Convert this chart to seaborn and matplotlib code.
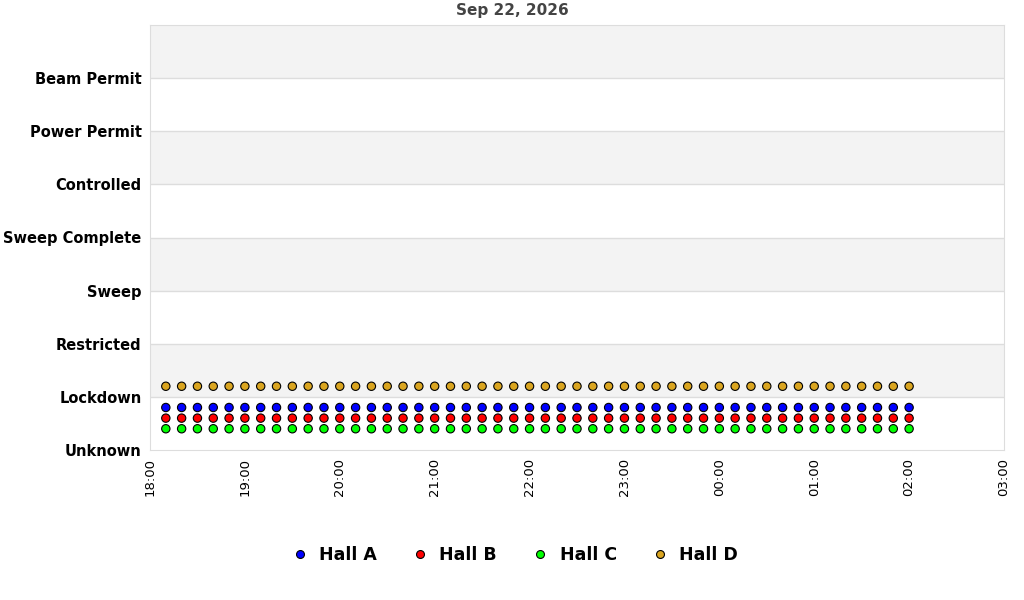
import pandas as pd
import numpy as np
import matplotlib
matplotlib.use("Agg")
import matplotlib.pyplot as plt
import matplotlib.dates as mdates
import seaborn as sns

states = ["Unknown", "Lockdown", "Restricted", "Sweep", "Sweep Complete",
          "Controlled", "Power Permit", "Beam Permit"]

times = ["18:10", "18:20", "18:30", "18:40", "18:50", "19:00",
         "19:10", "19:20", "19:30", "19:40", "19:50", "20:00",
         "20:10", "20:20", "20:30", "20:40", "20:50", "21:00",
         "21:10", "21:20", "21:30", "21:40", "21:50", "22:00",
         "22:10", "22:20", "22:30", "22:40", "22:50", "23:00",
         "23:10", "23:20", "23:30", "23:40", "23:50", "00:00",
         "00:10", "00:20", "00:30", "00:40", "00:50", "01:00",
         "01:10", "01:20", "01:30", "01:40", "01:50", "02:00"]

# state index per sample (1 = Lockdown)
hall_a = [1, 1, 1, 1, 1, 1, 1, 1, 1, 1, 1, 1, 1, 1, 1, 1, 1, 1, 1, 1, 1, 1, 1, 1,
          1, 1, 1, 1, 1, 1, 1, 1, 1, 1, 1, 1, 1, 1, 1, 1, 1, 1, 1, 1, 1, 1, 1, 1]
hall_b = [1, 1, 1, 1, 1, 1, 1, 1, 1, 1, 1, 1, 1, 1, 1, 1, 1, 1, 1, 1, 1, 1, 1, 1,
          1, 1, 1, 1, 1, 1, 1, 1, 1, 1, 1, 1, 1, 1, 1, 1, 1, 1, 1, 1, 1, 1, 1, 1]
hall_c = [1, 1, 1, 1, 1, 1, 1, 1, 1, 1, 1, 1, 1, 1, 1, 1, 1, 1, 1, 1, 1, 1, 1, 1,
          1, 1, 1, 1, 1, 1, 1, 1, 1, 1, 1, 1, 1, 1, 1, 1, 1, 1, 1, 1, 1, 1, 1, 1]
hall_d = [1, 1, 1, 1, 1, 1, 1, 1, 1, 1, 1, 1, 1, 1, 1, 1, 1, 1, 1, 1, 1, 1, 1, 1,
          1, 1, 1, 1, 1, 1, 1, 1, 1, 1, 1, 1, 1, 1, 1, 1, 1, 1, 1, 1, 1, 1, 1, 1]

halls = ["Hall A", "Hall B", "Hall C", "Hall D"]
colors = ["#0000ff", "#ff0000", "#00ff00", "#daa520"]
# vertical offset so the halls don't sit on top of each other
offsets = {"Hall A": -0.2, "Hall B": -0.4, "Hall C": -0.6, "Hall D": 0.2}

# timestamps: evening of Sep 22 rolls into Sep 23 after midnight
stamps = []
for t in times:
    day = "2026-09-22" if t >= "18:00" else "2026-09-23"
    stamps.append(pd.Timestamp(day + " " + t))

frames = []
for name, vals in zip(halls, [hall_a, hall_b, hall_c, hall_d]):
    frames.append(pd.DataFrame({"time": stamps, "state": vals, "hall": name}))
df = pd.concat(frames, ignore_index=True)
df["y"] = df["state"] + df["hall"].map(offsets)

sns.set_style("white")
plt.rcParams["text.color"] = "black"
plt.rcParams["xtick.color"] = "black"
plt.rcParams["ytick.color"] = "black"

fig = plt.figure(figsize=(10.24, 6), dpi=100)
ax = fig.add_axes([150 / 1024, 150 / 600, 854 / 1024, 425 / 600])

for i in range(8):
    if i % 2 == 1:
        ax.axhspan(i, i + 1, color="#f3f3f3", zorder=0, lw=0)
for i in range(1, 8):
    ax.axhline(i, color="#dddddd", lw=1, zorder=1)

sns.scatterplot(data=df, x="time", y="y", hue="hall", hue_order=halls,
                palette=colors, s=36, edgecolor="black", linewidth=0.8,
                ax=ax, zorder=3)

ax.set_ylim(0, 8)
ax.set_yticks(range(len(states)))
ax.set_yticklabels(states, fontweight="bold", fontsize=10.5)
ax.set_xlim(pd.Timestamp("2026-09-22 18:00"), pd.Timestamp("2026-09-23 03:00"))
ax.xaxis.set_major_locator(mdates.HourLocator())
ax.xaxis.set_major_formatter(mdates.DateFormatter("%H:%M"))
plt.setp(ax.get_xticklabels(), rotation=90, fontsize=9.5)
ax.tick_params(length=0, pad=6)
ax.set_xlabel("")
ax.set_ylabel("")
for sp in ax.spines.values():
    sp.set_color("#dddddd")

fig.text(0.5, 1 - 11 / 600, "Sep 22, 2026", fontweight="bold", fontsize=11,
         color="#444444", ha="center", va="center")

handles, labels = ax.get_legend_handles_labels()
ax.legend_.remove()
fig.legend(handles, labels, loc="center", bbox_to_anchor=(0.5, 0.075), ncol=4,
           frameon=False, prop={"weight": "bold", "size": 12.5},
           handletextpad=0.3, columnspacing=1.7, markerscale=0.95,
           handlelength=1.6)

fig.savefig("out.png", dpi=100)
